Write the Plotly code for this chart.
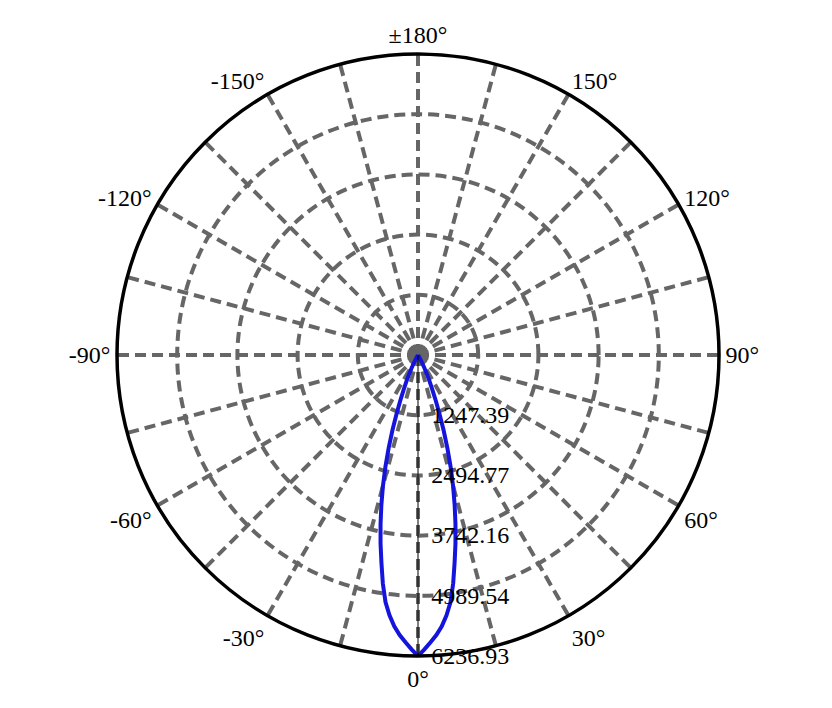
import plotly.graph_objects as go

# luminous intensity distribution (cd), symmetric narrow beam
half_angles = [0, 1.25, 2.5, 3.75, 5, 6.25, 7.5, 8.75, 10, 11.25, 12.5, 13.75, 15, 16.25,
               17.5, 18.75, 20, 21.25, 22.5, 23.75, 25, 26.25, 27.5, 28.75, 30, 31.25, 32.5]
half_values = [6236.93, 6100, 5956, 5813, 5644, 5426, 5164, 4790, 4366, 3979, 3586, 3193,
               2807, 2414, 2027, 1653, 1310, 1017, 780, 592, 437, 299, 187, 112, 62, 25, 0]

angles = [-180] + [-a for a in half_angles[::-1]] + half_angles[1:] + [180]
intensity = [0] + half_values[::-1] + half_values[1:] + [0]

r_max = 6236.93
r_ticks = [1247.39, 2494.77, 3742.16, 4989.54, 6236.93]
r_labels = ["1247.39", "2494.77", "3742.16", "4989.54", "6236.93"]

theta_ticks = list(range(0, 360, 15))
theta_labels = {0: "0°", 30: "30°", 60: "60°", 90: "90°", 120: "120°", 150: "150°",
                180: "±180°", 210: "-150°", 240: "-120°", 270: "-90°", 300: "-60°", 330: "-30°"}

fig = go.Figure()
fig.add_trace(go.Scatterpolar(
    r=intensity,
    theta=angles,
    mode="lines",
    line=dict(color="rgb(20,20,220)", width=4),
    hoverinfo="skip",
    showlegend=False,
))

grid_color = "#666666"
fig.update_layout(
    width=832,
    height=708,
    margin=dict(l=0, r=0, t=0, b=0),
    paper_bgcolor="white",
    plot_bgcolor="white",
    font=dict(family="Liberation Serif, Times New Roman, serif", size=24, color="black"),
    showlegend=False,
    polar=dict(
        domain=dict(x=[0.1310, 0.8546], y=[0.0847, 0.9350]),
        bgcolor="white",
        angularaxis=dict(
            rotation=270,
            direction="counterclockwise",
            tickmode="array",
            tickvals=theta_ticks,
            ticktext=[theta_labels.get(t, "") for t in theta_ticks],
            showline=True,
            linecolor="black",
            linewidth=3.5,
            showgrid=True,
            gridcolor=grid_color,
            gridwidth=3.5,
            griddash="11px,6px",
            ticks="",
        ),
        radialaxis=dict(
            range=[0, r_max],
            tickmode="array",
            tickvals=r_ticks,
            ticktext=r_labels,
            angle=270,
            tickangle=-90,
            side="counterclockwise",
            showline=True,
            linecolor="black",
            linewidth=1,
            showgrid=True,
            gridcolor=grid_color,
            gridwidth=3.5,
            griddash="11px,6px",
            ticks="outside",
            ticklen=8,
            tickcolor="rgba(0,0,0,0)",
        ),
    ),
)

fig.write_html("out.html")
